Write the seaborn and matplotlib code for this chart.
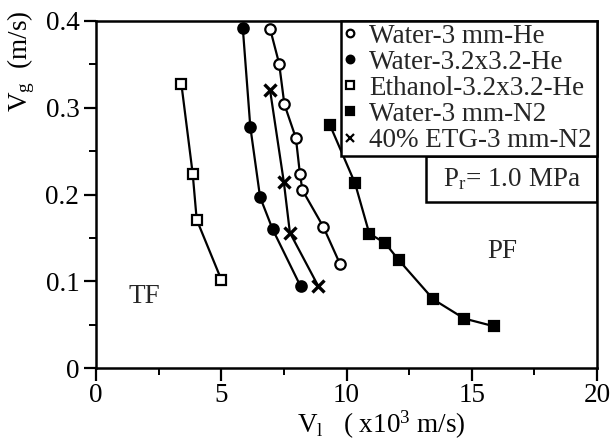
import matplotlib
matplotlib.use("Agg")
import matplotlib.pyplot as plt
import seaborn as sns
from matplotlib.lines import Line2D
from matplotlib.patches import Rectangle
from matplotlib.ticker import MultipleLocator

# Flow-regime transition data: liquid velocity (x10^3 m/s) vs gas velocity (m/s)
water_3mm_he_vl = [6.95, 7.31, 7.52, 7.98, 8.14, 8.24, 9.07, 9.74]
water_3mm_he_vg = [0.391, 0.351, 0.304, 0.265, 0.224, 0.205, 0.163, 0.120]

water_sq_he_vl = [5.86, 6.16, 6.55, 7.05, 8.17]
water_sq_he_vg = [0.392, 0.278, 0.197, 0.160, 0.094]

ethanol_sq_he_vl = [3.41, 3.86, 4.02, 5.00]
ethanol_sq_he_vg = [0.327, 0.224, 0.171, 0.102]

water_3mm_n2_vl = [9.34, 10.34, 10.91, 11.54, 12.10, 13.47, 14.70, 15.90]
water_3mm_n2_vg = [0.280, 0.213, 0.155, 0.144, 0.124, 0.079, 0.057, 0.048]

etg_3mm_n2_vl = [6.95, 7.50, 7.74, 8.88]
etg_3mm_n2_vg = [0.320, 0.214, 0.156, 0.094]

labels = ["Water-3 mm-He", "Water-3.2x3.2-He", "Ethanol-3.2x3.2-He",
          "Water-3 mm-N2", "40% ETG-3 mm-N2"]
x_ticks = [0, 5, 10, 15, 20]
y_ticks = [0, 0.1, 0.2, 0.3, 0.4]
y_tick_labels = ["0", "0.1", "0.2", "0.3", "0.4"]

FS = 19.5

sns.set_theme(style="ticks")
plt.rcParams["font.family"] = ["Liberation Serif", "DejaVu Serif"]
plt.rcParams["mathtext.fontset"] = "custom"
plt.rcParams["mathtext.rm"] = "Liberation Serif"
plt.rcParams["mathtext.it"] = "Liberation Serif:italic"

fig = plt.figure(figsize=(6.12, 4.41), dpi=100)
ax = fig.add_axes([96 / 612, 1 - 368 / 441, 501 / 612, 347 / 441])

series = [
    (water_3mm_he_vl, water_3mm_he_vg, "o", "white"),
    (water_sq_he_vl, water_sq_he_vg, "o", "black"),
    (ethanol_sq_he_vl, ethanol_sq_he_vg, "s", "white"),
    (water_3mm_n2_vl, water_3mm_n2_vg, "s", "black"),
    (etg_3mm_n2_vl, etg_3mm_n2_vg, "x", "black"),
]

for (xs, ys, mk, fc), lab in zip(series, labels):
    sns.lineplot(x=xs, y=ys, ax=ax, sort=False, estimator=None,
                 color="black", lw=1.6, marker=mk, markersize=7.5 if mk != "x" else 8.5,
                 markerfacecolor=fc, markeredgecolor="black",
                 markeredgewidth=1.6 if mk != "x" else 2.4)

ax.set_xlim(0, 20)
ax.set_ylim(0, 0.4)
ax.set_xticks(x_ticks)
ax.set_xticklabels([str(t) for t in x_ticks])
ax.set_yticks(y_ticks)
ax.set_yticklabels(y_tick_labels)
ax.xaxis.set_minor_locator(MultipleLocator(2.5))
ax.yaxis.set_minor_locator(MultipleLocator(0.05))

for side in ["left", "right", "top", "bottom"]:
    ax.spines[side].set_visible(True)
    ax.spines[side].set_linewidth(1.8)
    ax.spines[side].set_color("black")

ax.tick_params(axis="both", which="major", direction="out", length=9, width=1.6,
               labelsize=FS, color="black", labelcolor="black", pad=3)
ax.tick_params(axis="x", which="major", pad=1.5)
ax.tick_params(axis="both", which="minor", direction="out", length=5, width=1.4,
               color="black")
ax.tick_params(top=False, right=False, which="both")

ax.set_xlabel(r"$\mathrm{V_l}$   ( x$\mathrm{10^3}$ m/s)", fontsize=FS, color="black")
ax.set_ylabel(r"$\mathrm{V_g}$  (m/s)", fontsize=FS, color="black")
ax.xaxis.set_label_coords(0.57, -0.118)
ax.yaxis.set_label_coords(-0.118, 0.885)

# regime labels
ax.text(1.92, 0.082, "TF", fontsize=FS, ha="center", va="center")
ax.text(16.2, 0.134, "PF", fontsize=FS, ha="center", va="center")

# legend
handles = []
for (xs, ys, mk, fc) in series:
    handles.append(Line2D([], [], ls="none", marker=mk, color="black",
                          markerfacecolor=fc, markeredgecolor="black",
                          markersize=5.5, markeredgewidth=1.6))
leg = ax.legend(handles, labels, loc="upper left",
                bbox_to_anchor=(0.489, 0.611, 0.511, 0.389), mode="expand",
                borderaxespad=0, fontsize=FS, frameon=True, fancybox=False,
                handlelength=0.5, handletextpad=0.45, labelspacing=0.04,
                borderpad=0.1)
leg.get_frame().set_edgecolor("black")
leg.get_frame().set_linewidth(1.8)
leg.get_frame().set_facecolor("white")
leg.get_frame().set_alpha(1)

# pressure annotation box
ax.add_patch(Rectangle((0.659, 0.478), 0.341, 0.133, transform=ax.transAxes,
                       fill=False, edgecolor="black", lw=1.8, zorder=5))
ax.text(0.83, 0.545, r"$\mathrm{P_r}$= 1.0 MPa", transform=ax.transAxes,
        fontsize=FS, ha="center", va="center")

fig.savefig("out.png", dpi=100)
